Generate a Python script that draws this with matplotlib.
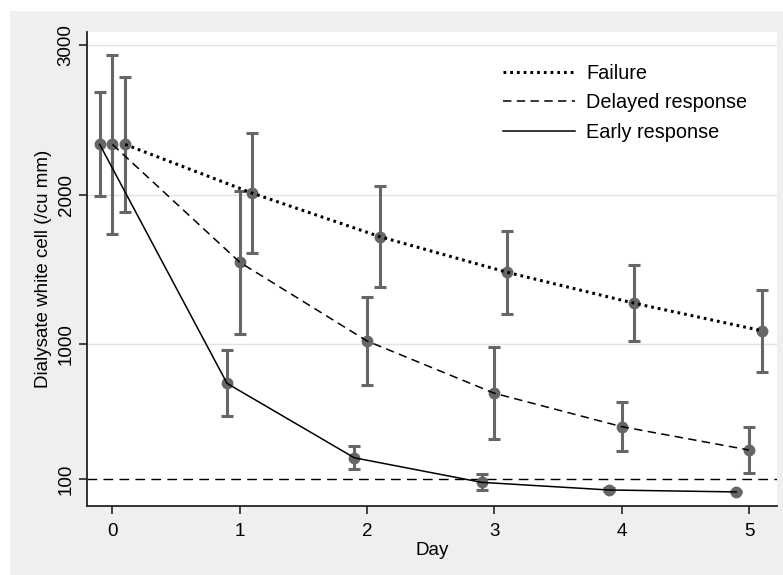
import matplotlib
matplotlib.use('Agg')
import matplotlib.pyplot as plt
from matplotlib.patches import Rectangle
import numpy as np

plt.rcParams['font.family'] = ['Liberation Sans', 'DejaVu Sans']

# values (dialysate white cells, /cu mm)
days = np.array([0, 1, 2, 3, 4, 5])
failure_mean = [2335, 2009, 1719, 1481, 1274, 1091]
failure_err = [453, 400, 337, 277, 254, 273]
delayed_mean = [2335, 1548, 1022, 673, 450, 294]
delayed_err = [600, 478, 296, 308, 164, 152]
early_mean = [2335, 739, 242, 78, 27, 14]
early_err = [347, 220, 77, 53, 10, 3]
y_ticks = [100, 1000, 2000, 3000]
threshold = 100

fig = plt.figure(figsize=(7.83, 5.75), dpi=100)
fig.patch.set_facecolor('white')
fig.patches.append(Rectangle((10 / 783, 0), 1, (575 - 11) / 575, transform=fig.transFigure,
                             facecolor='#efefef', edgecolor='none', zorder=-10))
ax = fig.add_axes([87 / 783, 1 - 506 / 575, 690 / 783, 474 / 575])
ax.set_facecolor('white')

groups = [
    ('Failure', failure_mean, failure_err, 0.1, (0, (0.9, 1.3)), 2.2),
    ('Delayed response', delayed_mean, delayed_err, 0.0, (0, (5.5, 3.5)), 1.1),
    ('Early response', early_mean, early_err, -0.1, '-', 1.1),
]

for label, mean, err, shift, ls, lw in groups:
    x = days + shift
    ax.errorbar(x, mean, yerr=err, fmt='o', color='#666666', ms=7.5, elinewidth=2.2,
                capsize=4, capthick=2.2, zorder=2)
    ax.plot(x, mean, color='black', linestyle=ls, lw=lw, label=label, zorder=3)

ax.axhline(threshold, color='black', linestyle=(0, (7, 4.5)), lw=1.0, zorder=1)
for yv in y_ticks[1:]:
    ax.axhline(yv, color='#e3e3e3', lw=1.0, zorder=0.5)

ax.set_xlim(-0.2, 5.22)
ax.set_ylim(-80, 3086)
ax.set_xticks(days)
ax.set_yticks(y_ticks)
ax.set_yticklabels([str(v) for v in y_ticks], rotation=90, va='center')
ax.tick_params(axis='both', labelsize=13.5, length=6, width=1.2, color='#222222', pad=3)
ax.tick_params(axis='x', pad=6)
for side in ['top', 'right']:
    ax.spines[side].set_visible(False)
for side in ['left', 'bottom']:
    ax.spines[side].set_linewidth(1.3)
    ax.spines[side].set_color('#222222')

ax.set_xlabel('Day', fontsize=13.5, labelpad=2)
ax.set_ylabel('Dialysate white cell (/cu mm)', fontsize=13.5, labelpad=4)

ax.legend(loc='upper left', bbox_to_anchor=(0.577, 0.97), frameon=False, fontsize=14.3,
          handlelength=3.6, handletextpad=0.6, labelspacing=0.52)

fig.savefig('out.png', dpi=100)
